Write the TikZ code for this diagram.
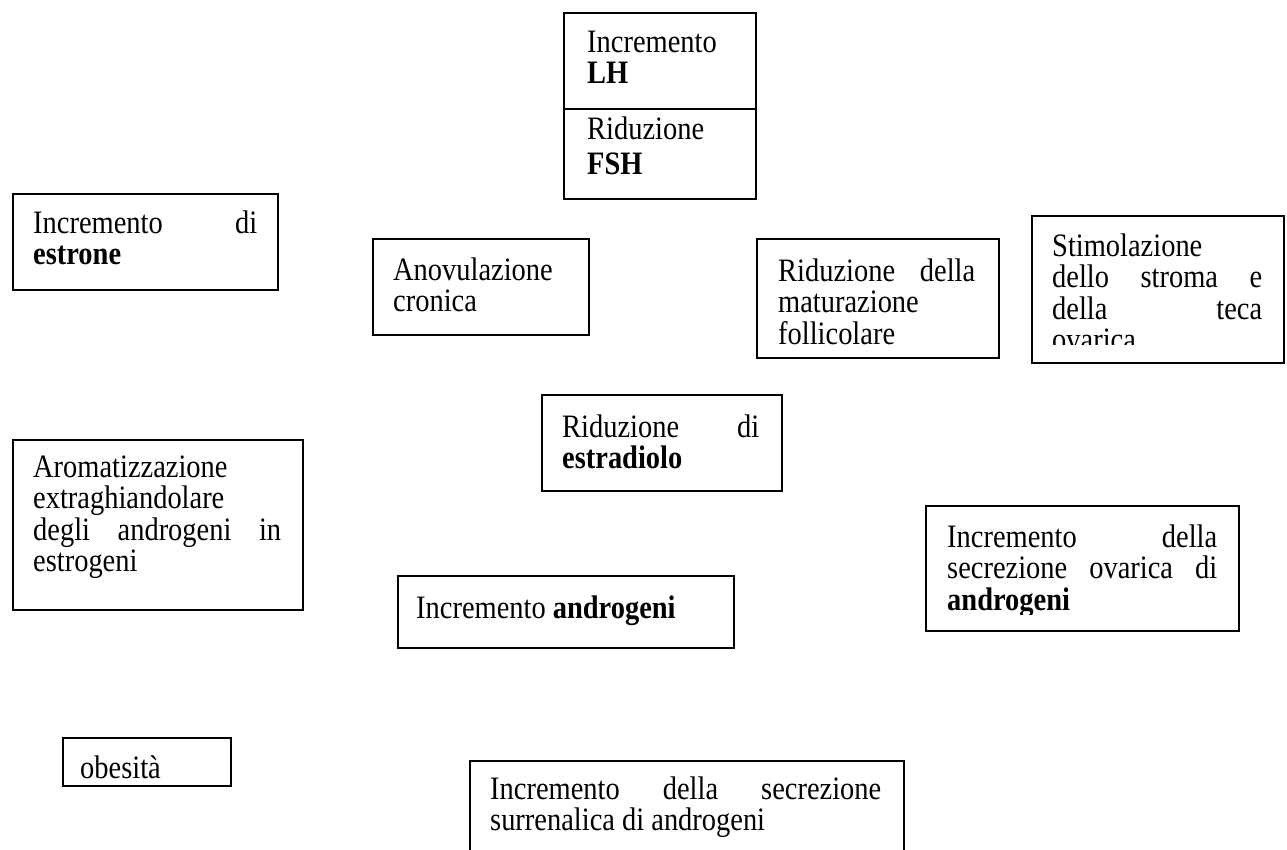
\documentclass[tikz,border=0pt]{standalone}
\usepackage{fontspec}
\setmainfont[FakeStretch=0.87]{Liberation Serif}
\newcommand\jl[2]{\makebox[#1pt][s]{#2}}
\newcommand\tstrut{\rule{0pt}{25pt}}
\newcommand\frbox[5]{\node[box,anchor=north west,minimum width=#4pt,minimum height=#5pt] (#1) at (#2,#3) {};}
\begin{document}
\begin{tikzpicture}[x=1pt,y=-1pt,
  box/.style={draw, line width=1.8pt, inner sep=0pt},
  txt/.style={inner sep=0pt, anchor=north west, align=left, font=\fontsize{32.7}{31.5}\selectfont}]
\useasboundingbox (0,0) rectangle (1287,850);
% boxes
\frbox{lh}{563}{12}{192}{96}
\frbox{fsh}{563}{108}{192}{90}
\frbox{estrone}{12}{193}{265}{96}
\frbox{anov}{372}{238}{216}{96}
\frbox{matur}{756}{238}{242}{119}
\frbox{stim}{1031}{215}{252}{147}
\frbox{estrad}{541}{394}{240}{96}
\frbox{aromat}{12}{439}{290}{170}
\frbox{andro}{397}{575}{336}{72}
\frbox{ovar}{925}{505}{313}{125}
\frbox{obes}{62}{737}{168}{48}
\frbox{surr}{469}{760}{434}{110}
% texts
\node[txt] (lh-t) at (587,27) {\tstrut Incremento\\\textbf{LH}};
\node[txt] (fsh-t) at (587,114) {\tstrut Riduzione\\[4pt]\textbf{FSH}};
\node[txt] (estrone-t) at (33,208) {\tstrut\jl{224}{Incremento di}\\\textbf{estrone}};
\node[txt] (anov-t) at (393,255) {\tstrut Anovulazione\\cronica};
\node[txt] (matur-t) at (778,256) {\tstrut\jl{197}{Riduzione della}\\maturazione\\follicolare};
\begin{scope}
\clip (1031,215) rectangle (1283,344);
\node[txt] (stim-t) at (1052,231) {\tstrut Stimolazione\\\jl{210}{dello stroma e}\\\jl{210}{della teca}\\ovarica};
\end{scope}
\node[txt] (estrad-t) at (562,412) {\tstrut\jl{197}{Riduzione di}\\\textbf{estradiolo}};
\node[txt] (aromat-t) at (33,452) {\tstrut Aromatizzazione\\extraghiandolare\\\jl{248}{degli androgeni in}\\estrogeni};
\node[txt] (andro-t) at (416,593) {\tstrut Incremento \textbf{androgeni}};
\begin{scope}
\clip (925,505) rectangle (1238,614);
\node[txt] (ovar-t) at (947,522) {\tstrut\jl{270}{Incremento della}\\\jl{270}{secrezione ovarica di}\\\textbf{androgeni}};
\end{scope}
\node[txt] (obes-t) at (80,753) {\tstrut obesità};
\node[txt] (surr-t) at (490,774) {\tstrut\jl{391}{Incremento della secrezione}\\surrenalica di androgeni};
\end{tikzpicture}
\end{document}
